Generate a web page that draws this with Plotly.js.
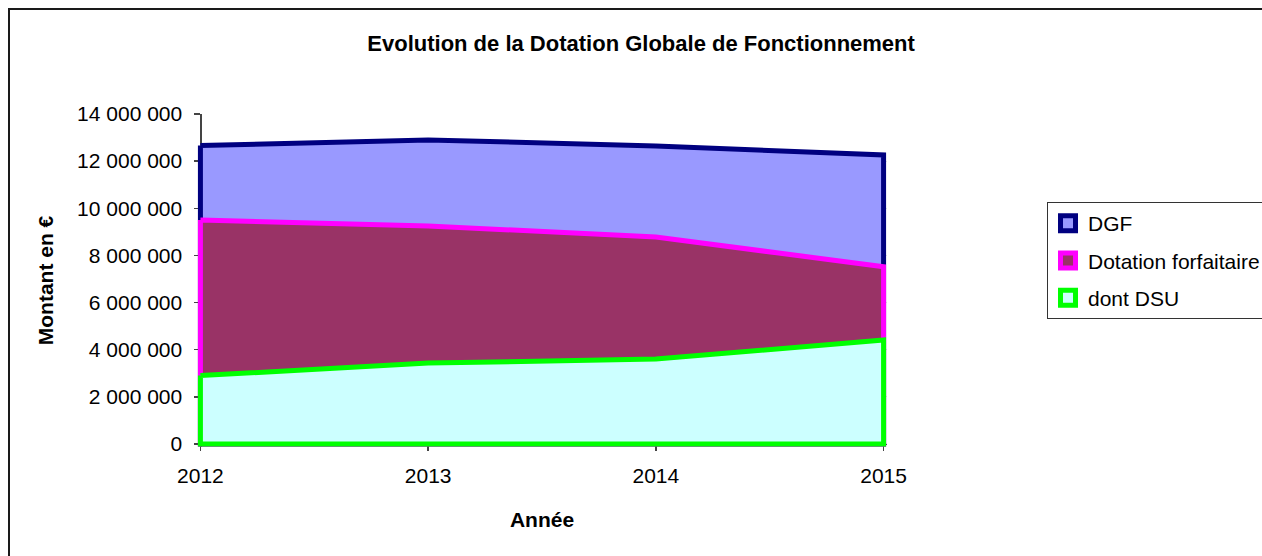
<!DOCTYPE html>
<html>
<head>
<meta charset="utf-8">
<script src="https://cdn.plot.ly/plotly-3.0.1.min.js"></script>
<style>
html,body{margin:0;padding:0;background:#fff;}
#wrap{position:relative;width:1262px;height:556px;overflow:hidden;}
#chart{position:absolute;left:0;top:0;width:1262px;height:556px;}
#frame{position:absolute;left:8px;top:8px;width:1400px;height:700px;border-left:2px solid #1a1a1a;border-top:2px solid #1a1a1a;pointer-events:none;}
</style>
</head>
<body>
<div id="wrap"><div id="chart"></div><div id="frame"></div></div>
<script>
const years = [2012, 2013, 2014, 2015];
const dgf = [12660000, 12900000, 12640000, 12260000];
const dotationForfaitaire = [9500000, 9250000, 8780000, 7520000];
const dontDSU = [2900000, 3430000, 3600000, 4410000];
const seriesNames = ['DGF', 'Dotation forfaitaire', 'dont DSU'];
const fillColors = ['#9999FF', '#993366', '#CCFFFF'];
const lineColors = ['#000080', '#FF00FF', '#00FF00'];
const yTicks = [0, 2000000, 4000000, 6000000, 8000000, 10000000, 12000000, 14000000];

function closedArea(vals) {
  const n = years.length;
  return {
    x: years.concat([years[n - 1], years[0], years[0]]),
    y: vals.concat([0, 0, vals[0]])
  };
}

const allSeries = [dgf, dotationForfaitaire, dontDSU];
const traces = allSeries.map((vals, i) => {
  const p = closedArea(vals);
  return {
    type: 'scatter', mode: 'lines', name: seriesNames[i], showlegend: false,
    x: p.x, y: p.y, fill: 'toself', fillcolor: fillColors[i],
    line: {color: lineColors[i], width: 5, shape: 'linear'},
    hoverinfo: 'skip'
  };
});
// legend entries (square swatches like the original)
seriesNames.forEach((nm, i) => {
  traces.push({
    type: 'scatter', mode: 'markers', name: nm, x: [null], y: [null],
    legendgroup: 'g' + i, showlegend: true,
    marker: {symbol: 'square', size: 15, color: fillColors[i], line: {color: lineColors[i], width: 5}}
  });
});

const xr = [2011.985, 2015.015];
const yr = [-130000, 14000000];
const font = 'Liberation Sans, Arial, sans-serif';

const layout = {
  width: 1262, height: 556,
  margin: {l: 197, r: 375, t: 114, b: 109, autoexpand: false},
  paper_bgcolor: 'rgba(0,0,0,0)', plot_bgcolor: '#fff',
  separators: ', ',
  font: {family: font, size: 21, color: '#000'},
  title: {text: '<b>Evolution de la Dotation Globale de Fonctionnement</b>', x: 0.508, xanchor: 'center', y: 0.922, yanchor: 'middle', font: {size: 22, family: font}},
  showlegend: true,
  legend: {x: 1.2319, y: 0.7357, xanchor: 'left', yanchor: 'top', bgcolor: '#fff', bordercolor: '#333', borderwidth: 1, font: {size: 21, family: font}, traceorder: 'grouped', itemwidth: 30, tracegroupgap: 7},
  xaxis: {
    range: xr, tickvals: years, ticktext: years.map(String), showgrid: false, zeroline: false,
    showline: true, linecolor: '#444', linewidth: 1.5, ticks: 'outside', ticklen: 6, tickcolor: '#444', tickwidth: 1.5,
    anchor: 'free', position: (0 - yr[0]) / (yr[1] - yr[0]), layer: 'below traces',
    tickfont: {size: 21, family: font}, ticklabelstandoff: 6,
    title: {text: '<b>Année</b>', font: {size: 21, family: font}, standoff: 26}
  },
  yaxis: {
    range: yr, tickvals: yTicks, tickformat: ',d', showgrid: true, gridcolor: '#e4e4e4', gridwidth: 1, zeroline: false,
    showline: true, linecolor: '#444', linewidth: 1.5, ticks: 'outside', ticklen: 6, tickcolor: '#444', tickwidth: 1.5,
    anchor: 'free', position: (years[0] - xr[0]) / (xr[1] - xr[0]), layer: 'below traces',
    tickfont: {size: 21, family: font}, ticklabelstandoff: 8,
    title: {text: '<b>Montant en €</b>', font: {size: 21, family: font}, standoff: 16}
  }
};

Plotly.newPlot('chart', traces, layout, {staticPlot: true, displayModeBar: false});
</script>
</body>
</html>
